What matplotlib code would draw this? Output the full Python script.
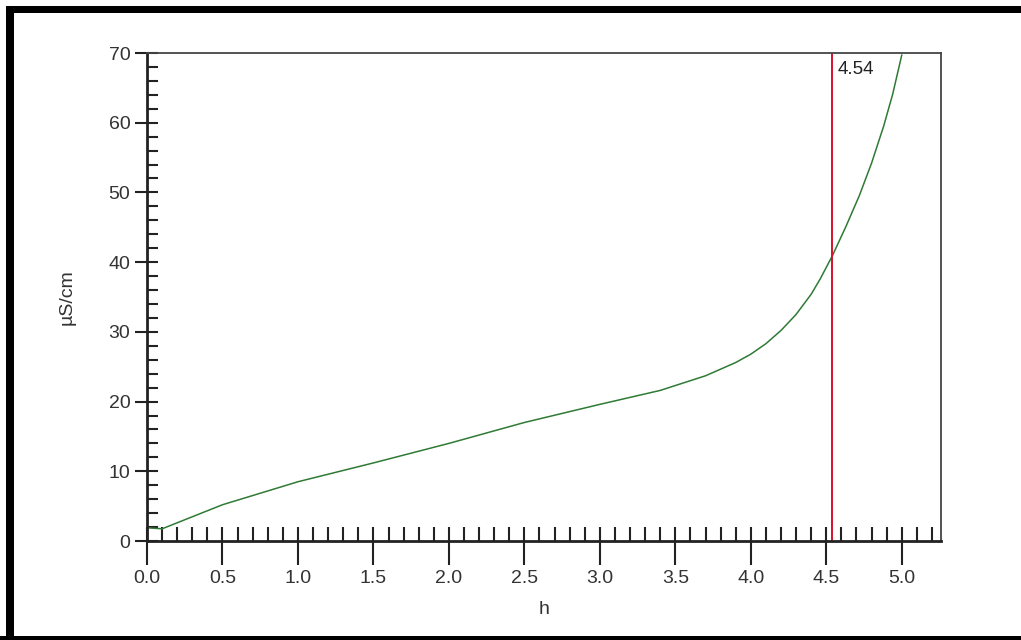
import matplotlib
matplotlib.use('Agg')
import matplotlib.pyplot as plt
from matplotlib.patches import Rectangle
from matplotlib.ticker import MultipleLocator

# curve
H_VALUES = [0.0, 0.1, 0.5, 1.0, 1.5, 2.0, 2.5, 3.0, 3.4, 3.7, 3.9, 4.0, 4.1,
            4.2, 4.3, 4.4, 4.46, 4.54, 4.63, 4.72, 4.8, 4.88, 4.94, 5.0]
COND_VALUES = [1.9, 1.75, 5.2, 8.5, 11.2, 14.0, 17.0, 19.6, 21.6, 23.7, 25.6,
               26.8, 28.3, 30.2, 32.5, 35.4, 37.6, 40.9, 45.1, 49.6, 54.2,
               59.5, 64.1, 69.7]
MARKER_H = 4.54
X_LABEL = 'h'
Y_LABEL = 'µS/cm'

plt.rcParams['font.family'] = ['Liberation Sans', 'DejaVu Sans']


def add_border(fig):
    """Thick black frame on top, left and bottom of the image."""
    w, h = 1021.0, 640.0
    bars = [
        (6 / w, 1 - 13 / h, 1.0, 7 / h),
        (6 / w, 0.0, 8 / w, 1 - 6 / h),
        (0.0, 0.0, 1.0, 4 / h),
    ]
    for x0, y0, bw, bh in bars:
        fig.patches.append(Rectangle((x0, y0), bw, bh, transform=fig.transFigure,
                                     facecolor='black', edgecolor='none'))


def main():
    fig = plt.figure(figsize=(10.21, 6.40), dpi=100)
    ax = fig.add_axes([147 / 1021, 1 - 541 / 640, (941 - 147) / 1021, (541 - 53) / 640])

    ax.plot(H_VALUES, COND_VALUES, color='#2f7a34', linewidth=1.1)
    ax.axvline(MARKER_H, color='#d8102a', linewidth=1.4)
    ax.annotate(f'{MARKER_H:.2f}', xy=(MARKER_H, 70), xytext=(4, -6),
                textcoords='offset points', ha='left', va='top',
                fontsize=13.5, color='#222222')

    ax.set_xlim(0, 5.26)
    ax.set_ylim(0, 70)

    ax.xaxis.set_major_locator(MultipleLocator(0.5))
    ax.xaxis.set_minor_locator(MultipleLocator(0.1))
    ax.yaxis.set_major_locator(MultipleLocator(10))
    ax.yaxis.set_minor_locator(MultipleLocator(2))
    ax.xaxis.remove_overlapping_locs = False
    ax.yaxis.remove_overlapping_locs = False
    ax.xaxis.set_major_formatter(lambda v, p: f'{v:.1f}')

    ax.tick_params(axis='x', which='major', direction='out', length=17, width=1.5,
                   labelsize=14, pad=4, color='#222222', labelcolor='#333333')
    ax.tick_params(axis='x', which='minor', direction='in', length=10, width=1.5,
                   color='#222222')
    ax.tick_params(axis='y', which='major', direction='out', length=9, width=1.5,
                   labelsize=14, pad=3, color='#222222', labelcolor='#333333')
    ax.tick_params(axis='y', which='minor', direction='in', length=8, width=1.5,
                   color='#222222')

    for side in ['left', 'bottom']:
        ax.spines[side].set_linewidth(2)
        ax.spines[side].set_color('#222222')
    for side in ['top', 'right']:
        ax.spines[side].set_linewidth(1.3)
        ax.spines[side].set_color('#444444')

    ax.set_xlabel(X_LABEL, fontsize=14, color='#333333', labelpad=10)
    ax.set_ylabel(Y_LABEL, fontsize=14, color='#333333', labelpad=24)

    add_border(fig)
    fig.savefig('out.png', dpi=100)


if __name__ == "__main__":
    main()
